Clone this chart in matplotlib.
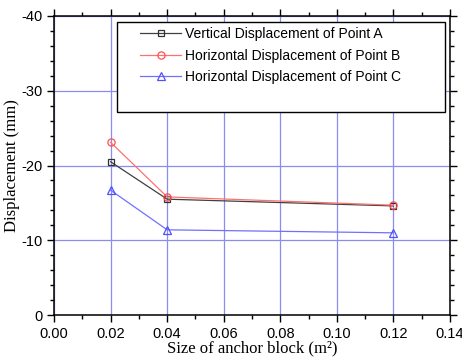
import matplotlib.pyplot as plt
from matplotlib.ticker import MultipleLocator
from matplotlib.patches import Rectangle

# anchor block sizes (m^2)
sizes = [0.02, 0.04, 0.12]

# displacements (mm)
vert_a = [-20.5, -15.5, -14.6]
horiz_b = [-23.1, -15.8, -14.7]
horiz_c = [-16.7, -11.4, -11.0]

labels = ["Vertical Displacement of Point A",
          "Horizontal Displacement of Point B",
          "Horizontal Displacement of Point C"]

fig = plt.figure(figsize=(4.62, 3.63), dpi=100)
ax = fig.add_axes([0.117, 0.132, 0.857, 0.824])

ax.plot(sizes, vert_a, color="#404040", lw=0.9, marker="s", ms=4.2,
        mfc="none", mec="#303030", mew=0.9, label=labels[0])
ax.plot(sizes, horiz_b, color="#ff7070", lw=0.9, marker="o", ms=5.2,
        mfc="none", mec="#ff5050", mew=0.9, label=labels[1])
ax.plot(sizes, horiz_c, color="#7070ff", lw=0.9, marker="^", ms=5.2,
        mfc="none", mec="#5050ff", mew=0.9, label=labels[2])

ax.set_xlim(0, 0.14)
ax.set_ylim(0, -40)
ax.xaxis.set_major_locator(MultipleLocator(0.02))
ax.xaxis.set_minor_locator(MultipleLocator(0.01))
ax.yaxis.set_major_locator(MultipleLocator(10))
ax.yaxis.set_minor_locator(MultipleLocator(2))
ax.xaxis.set_major_formatter(plt.FuncFormatter(lambda v, p: f"{v:.2f}"))
ax.yaxis.set_major_formatter(plt.FuncFormatter(lambda v, p: f"{v:.0f}"))

ax.grid(True, which="major", color="#8c8cf0", lw=0.9)
ax.set_axisbelow(True)

tickfont = "Liberation Sans"
ax.tick_params(which="both", direction="out", top=True, right=True,
               labelsize=10.5, width=1, colors="black")
ax.tick_params(which="major", length=5)
ax.tick_params(which="minor", length=3)
for lab in ax.get_xticklabels() + ax.get_yticklabels():
    lab.set_fontfamily(tickfont)
for s in ax.spines.values():
    s.set_linewidth(1.1)

ax.set_xlabel("Size of anchor block (m²)", family="Liberation Serif",
              fontsize=12, labelpad=0)
ax.set_ylabel("Displacement (mm)", family="Liberation Serif", fontsize=12,
              labelpad=1)

# legend frame drawn separately so it keeps the wide, tall box of the original
box = Rectangle((0.159, 0.679), 0.828, 0.301, transform=ax.transAxes,
                facecolor="white", edgecolor="black", lw=1.0, zorder=4)
ax.add_patch(box)
leg = ax.legend(loc="upper left", prop={"family": tickfont, "size": 10},
                frameon=False, handlelength=2.9, handletextpad=0.3,
                labelspacing=0.53, borderpad=0, borderaxespad=0,
                bbox_to_anchor=(0.218, 0.962))
leg.set_zorder(5)

plt.savefig("out.png", dpi=100)
